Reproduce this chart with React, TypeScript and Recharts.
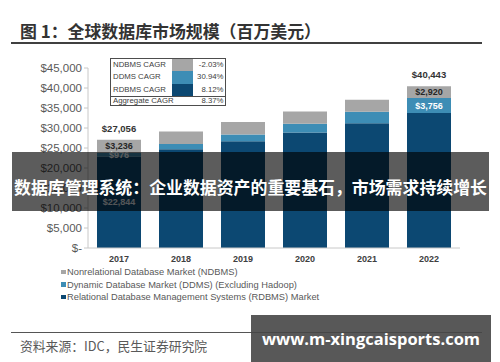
import React from "react";
import { BarChart, Bar, XAxis, YAxis, Legend, LabelList } from "recharts";

const years = ["2017", "2018", "2019", "2020", "2021", "2022"];
const rdbms = [22844, 24699, 26705, 28873, 31218, 33767];
const ddms = [976, 1278, 1673, 2190, 2868, 3756];
const ndbms = [3236, 3170, 3105, 3042, 2980, 2920];
const yTicks = [0, 5000, 10000, 15000, 20000, 25000, 30000, 35000, 40000, 45000];

const seriesNames = [
  "Nonrelational Database Market (NDBMS)",
  "Dynamic Database Market (DDMS) (Excluding Hadoop)",
  "Relational Database Management Systems (RDBMS) Market",
];
const seriesColors = ["#a6a6a6", "#3d8db5", "#0c4872"];

const cagrLabels = ["NDBMS CAGR", "DDMS CAGR", "RDBMS CAGR"];
const cagrValues = ["-2.03%", "30.94%", "8.12%"];
const aggregateLabel = "Aggregate CAGR";
const aggregateValue = "8.37%";

const ndbmsLabeledYears = ["2017", "2022"];
const ddmsLabeledYears = ["2017", "2022"];
const rdbmsLabeledYears = ["2017"];
const totalLabeledYears = ["2017", "2022"];

const titleText = "图 1：全球数据库市场规模（百万美元）";
const bannerText = "数据库管理系统：企业数据资产的重要基石，市场需求持续增长";
const sourceText = "资料来源：IDC，民生证券研究院";
const watermarkText = "www.m-xingcaisports.com";

const data = years.map((y, i) => ({
  year: y,
  rdbms: rdbms[i],
  ddms: ddms[i],
  ndbms: ndbms[i],
  total: rdbms[i] + ddms[i] + ndbms[i],
}));

const LATIN = "'Liberation Sans', Arial, sans-serif";
const CJK = "'Noto Sans CJK SC', 'Noto Sans', sans-serif";

const money = (v: number) => (v === 0 ? "$-" : "$" + v.toLocaleString("en-US"));

const geom = (props: any) => {
  const vb = props.viewBox || {};
  const x = props.x ?? vb.x;
  const y = props.y ?? vb.y;
  const width = props.width ?? vb.width;
  const height = props.height ?? vb.height;
  return { x: Number(x), y: Number(y), width: Number(width), height: Number(height) };
};

const segmentLabel = (labeled: string[], color: string) => (props: any) => {
  const idx = props.index;
  if (idx == null || !labeled.includes(years[idx])) return null;
  const { x, y, width, height } = geom(props);
  return (
    <text
      x={x + width / 2}
      y={y + height / 2}
      dy="0.35em"
      textAnchor="middle"
      fontSize={9}
      fontWeight="bold"
      fontFamily={LATIN}
      fill={color}
    >
      {money(props.value)}
    </text>
  );
};

const totalLabel = (props: any) => {
  const idx = props.index;
  if (idx == null || !totalLabeledYears.includes(years[idx])) return null;
  const { x, y, width } = geom(props);
  return (
    <text
      x={x + width / 2}
      y={y - 11.5}
      dy="0.35em"
      textAnchor="middle"
      fontSize={9.5}
      fontWeight="bold"
      fontFamily={LATIN}
      fill="#333"
    >
      {money(data[idx].total)}
    </text>
  );
};

const LegendContent = () => (
  <div style={{ fontFamily: LATIN, fontSize: 9.3, color: "#595959" }}>
    {seriesNames.map((n, i) => (
      <div key={n} style={{ display: "flex", alignItems: "center", height: 12.4, whiteSpace: "nowrap" }}>
        <span style={{ display: "inline-block", width: 4.5, height: 4.5, background: seriesColors[i], marginRight: 1.5 }} />
        <span>{n}</span>
      </div>
    ))}
  </div>
);

export default function App() {
  return (
    <div style={{ position: "absolute", left: 0, top: 0, width: 500, height: 362, background: "#fff", overflow: "hidden" }}>
      {/* title */}
      <div
        style={{
          position: "absolute",
          left: 20,
          top: 20,
          fontFamily: CJK,
          fontWeight: "bold",
          fontSize: 16.9,
          lineHeight: "22px",
          color: "#333",
          whiteSpace: "nowrap",
        }}
      >
        {titleText}
      </div>
      <div style={{ position: "absolute", left: 11, top: 42, width: 471, height: 1.6, background: "#404040" }} />

      <div style={{ position: "absolute", left: 0, top: 0 }}>
        <BarChart
          width={500}
          height={362}
          data={data}
          margin={{ top: 68, right: 40, left: 10, bottom: 94 }}
          barSize={44}
        >
          <XAxis
            dataKey="year"
            height={20}
            axisLine={{ stroke: "#c8c8c8" }}
            tickLine={false}
            tick={{ fontSize: 9, fontWeight: "bold", fill: "#404040", fontFamily: LATIN }}
          />
          <YAxis
            width={78}
            domain={[0, 45000]}
            ticks={yTicks}
            tickFormatter={money}
            axisLine={{ stroke: "#c8c8c8" }}
            tickLine={{ stroke: "#c8c8c8" }}
            tickSize={4}
            tickMargin={2}
            tick={{ fontSize: 11.5, fill: "#595959", fontFamily: LATIN }}
            interval={0}
          />
          <Legend
            layout="vertical"
            align="center"
            verticalAlign="middle"
            wrapperStyle={{ left: 61, top: 266, width: 320, height: 40 }}
            content={() => <LegendContent />}
          />
          <Bar dataKey="rdbms" stackId="a" fill={seriesColors[2]} isAnimationActive={false}>
            <LabelList dataKey="rdbms" content={segmentLabel(rdbmsLabeledYears, "#e8eef3")} />
          </Bar>
          <Bar dataKey="ddms" stackId="a" fill={seriesColors[1]} isAnimationActive={false}>
            <LabelList dataKey="ddms" content={segmentLabel(ddmsLabeledYears, "#ffffff")} />
          </Bar>
          <Bar dataKey="ndbms" stackId="a" fill={seriesColors[0]} isAnimationActive={false}>
            <LabelList dataKey="ndbms" content={segmentLabel(ndbmsLabeledYears, "#262626")} />
            <LabelList dataKey="ndbms" content={totalLabel} />
          </Bar>
        </BarChart>
      </div>

      {/* CAGR table */}
      <div
        style={{
          position: "absolute",
          left: 110,
          top: 58,
          width: 114,
          height: 46,
          border: "1.5px solid #4d4d4d",
          fontFamily: LATIN,
          fontSize: 7.8,
          color: "#404040",
          background: "#fff",
        }}
      >
        {cagrLabels.map((l, i) => (
          <div key={l} style={{ position: "absolute", left: 0, top: i * 12.3, width: 114, height: 12.3 }}>
            <span style={{ position: "absolute", left: 2, top: 0, lineHeight: "12.3px" }}>{l}</span>
            <span
              style={{
                position: "absolute",
                left: 61,
                top: 0,
                width: 20.5,
                height: 12.3,
                background: seriesColors[i],
              }}
            />
            <span style={{ position: "absolute", right: 1.5, top: 0, lineHeight: "12.3px" }}>{cagrValues[i]}</span>
          </div>
        ))}
        <div style={{ position: "absolute", left: 0, top: 37, width: 114, height: 1.2, background: "#4d4d4d" }} />
        <div style={{ position: "absolute", left: 0, top: 38.2, width: 114, height: 8 }}>
          <span style={{ position: "absolute", left: 2, top: 0, lineHeight: "8px" }}>{aggregateLabel}</span>
          <span style={{ position: "absolute", right: 1.5, top: 0, lineHeight: "8px" }}>{aggregateValue}</span>
        </div>
      </div>

      {/* banner */}
      <div
        style={{
          position: "absolute",
          left: 12,
          top: 152,
          width: 477,
          height: 59,
          background: "rgba(0,0,0,0.64)",
        }}
      >
        <div
          style={{
            position: "absolute",
            left: 0,
            top: 23,
            width: 477,
            textAlign: "center",
            fontFamily: CJK,
            fontWeight: "bold",
            fontSize: 16.9,
            lineHeight: "24px",
            color: "#fff",
            whiteSpace: "nowrap",
          }}
        >
          {bannerText}
        </div>
      </div>

      {/* source line & text */}
      <div style={{ position: "absolute", left: 11, top: 331.5, width: 471, height: 1.3, background: "#555" }} />
      <div
        style={{
          position: "absolute",
          left: 20,
          top: 336,
          fontFamily: CJK,
          fontSize: 12.8,
          lineHeight: "20px",
          color: "#595959",
          whiteSpace: "nowrap",
        }}
      >
        {sourceText}
      </div>

      {/* watermark */}
      <div
        style={{
          position: "absolute",
          left: 251,
          top: 315,
          width: 240,
          height: 47,
          background: "rgba(70,70,70,0.9)",
          display: "flex",
          alignItems: "center",
          justifyContent: "center",
          fontFamily: "'Open Sans', 'Noto Sans', sans-serif",
          fontWeight: "bold",
          fontSize: 16.5,
          color: "#fff",
          whiteSpace: "nowrap",
        }}
      >
        {watermarkText}
      </div>
    </div>
  );
}
